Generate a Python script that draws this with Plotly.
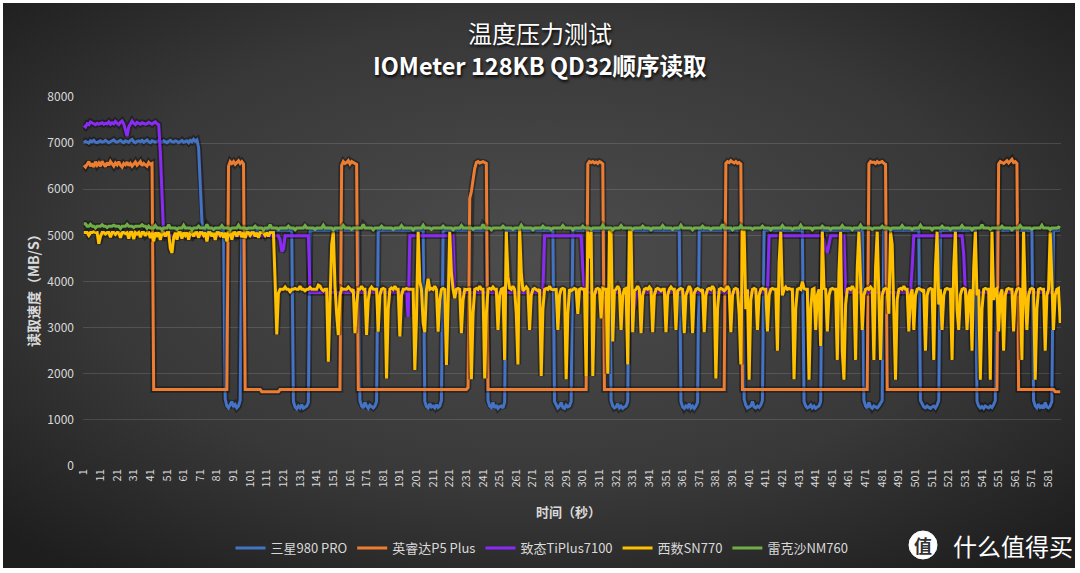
import base64
import plotly.graph_objects as go

N = 588
X = list(range(1, N + 1))
X_TICKS = list(range(1, 582, 10))
Y_TICKS = list(range(0, 8001, 1000))

SERIES_NAMES = ["三星980 PRO", "英睿达P5 Plus", "致态TiPlus7100", "西数SN770", "雷克沙NM760"]
COLORS = ["#4472C4", "#ED7D31", "#8A2BF5", "#FFC000", "#70AD47"]

# ---------------- 三星980 PRO ----------------
BLUE_START = [7010, 7040, 7020, 7000, 7050, 7030, 7060, 7020, 7010, 7040,
              7050, 7020, 7030, 7060, 7040, 7010, 7030, 7050, 7070, 7030,
              7020, 7040, 7060, 7030, 7010, 7050, 7040, 7020, 7060, 7080,
              7030, 7010, 7040, 7050, 7030, 7060, 7020, 7040, 7070, 7030,
              7010, 7050, 7040, 7020, 7030, 7060, 7040, 7020, 7050, 7030,
              7010, 7040, 7060, 7030, 7020, 7050, 7040, 7010, 7030, 7060,
              7020, 7040, 7050, 7010, 7060, 7030, 7080, 7040, 7070]
BLUE_BASE = [(70, 70, 6900), (71, 71, 6200), (72, 72, 5300), (73, N, 5110)]
BLUE_LOWS = [
    (86, [1450, 1300, 1260, 1350, 1400, 1280, 1330, 1260, 1300, 1420]),
    (127, [1400, 1280, 1240, 1300, 1260, 1330, 1250, 1270, 1300, 1380]),
    (167, [1420, 1300, 1260, 1380, 1300, 1250, 1320, 1280, 1260, 1300, 1400]),
    (206, [1400, 1290, 1260, 1350, 1280, 1300, 1260, 1330, 1270, 1300, 1420]),
    (244, [1420, 1300, 1270, 1380, 1260, 1320, 1250, 1290, 1300, 1260, 1380]),
    (284, [1400, 1310, 1260, 1300, 1380, 1270, 1250, 1320, 1280, 1300, 1400]),
    (318, [1420, 1300, 1260, 1280, 1350, 1260, 1300, 1250, 1280, 1300, 1400]),
    (360, [1400, 1280, 1250, 1300, 1270, 1350, 1260, 1300, 1250, 1300, 1380]),
    (398, [1450, 1320, 1260, 1290, 1300, 1400, 1280, 1260, 1300, 1270, 1320, 1420]),
    (434, [1400, 1300, 1260, 1280, 1320, 1260, 1300, 1250, 1280, 1300, 1400]),
    (470, [1420, 1300, 1260, 1380, 1280, 1250, 1300, 1270, 1260, 1300, 1350, 1420]),
    (504, [1420, 1330, 1280, 1260, 1300, 1270, 1250, 1280, 1300, 1260, 1320, 1420]),
    (538, [1400, 1300, 1260, 1290, 1250, 1300, 1280, 1260, 1300, 1270, 1330, 1420]),
    (572, [1420, 1300, 1260, 1340, 1270, 1300, 1250, 1380, 1280, 1260, 1300, 1400]),
]

# ---------------- 英睿达P5 Plus ----------------
ORANGE_START = [6520, 6480, 6540, 6600, 6500, 6560, 6480, 6600, 6520, 6570,
                6500, 6610, 6540, 6490, 6580, 6520, 6600, 6550, 6500, 6570,
                6530, 6600, 6520, 6480, 6560, 6530, 6590, 6510, 6560, 6500,
                6540, 6590, 6520, 6550, 6600, 6510, 6560, 6530, 6500, 6580,
                6540, 6560]
ORANGE_BASE = [(43, N, 1660), (108, 118, 1610), (585, N, 1610)]
ORANGE_PEAKS = [
    (88, [6500, 6600, 6560, 6600, 6540, 6580, 6620, 6560, 6600, 6550]),
    (156, [6520, 6600, 6560, 6580, 6620, 6550, 6600, 6580, 6560, 6540]),
    (232, [1700, 5800, 5950, 6200, 6450, 6580, 6600, 6570, 6590, 6600, 6580, 6560]),
    (304, [6550, 6600, 6580, 6600, 6570, 6590, 6560, 6600, 6580, 6550]),
    (387, [6560, 6600, 6580, 6620, 6590, 6570, 6600, 6560, 6580, 6550]),
    (473, [6550, 6600, 6580, 6590, 6560, 6600, 6570, 6580, 6600, 6560, 6540]),
    (551, [6550, 6600, 6580, 6560, 6590, 6620, 6570, 6600, 6650, 6580, 6600, 6560]),
]

# ---------------- 致态TiPlus7100 ----------------
PURPLE_START = [7380, 7350, 7420, 7400, 7460, 7430, 7420, 7400, 7430, 7410,
                7420, 7440, 7410, 7430, 7420, 7460, 7410, 7440, 7420, 7470,
                7430, 7400, 7450, 7480, 7420, 7250, 7150, 7350, 7420, 7480,
                7430, 7400, 7450, 7420, 7410, 7440, 7430, 7410, 7420, 7450,
                7430, 7410, 7440, 7460, 7420, 7400]
PURPLE_BASE = [(47, 47, 6800), (48, 48, 5700), (49, 136, 4990), (137, 196, 3760),
               (197, 223, 4990), (224, 277, 3760), (278, 300, 4990), (301, 412, 3760),
               (413, 458, 4990), (459, 499, 3760), (500, 529, 4990), (530, 530, 4600),
               (531, N, 3760)]
PURPLE_POINTS = [(119, 4900), (120, 4650), (121, 4700), (195, 3700), (196, 3230),
                 (301, 4300), (331, 3500), (332, 3400), (333, 3650), (446, 4900),
                 (447, 4680), (448, 4620), (449, 4800), (499, 4300)]

# ---------------- 西数SN770 ----------------
YELLOW_BASE = [(1, 115, 5060), (116, 116, 4000), (117, 117, 2850), (118, 118, 3750), (119, N, 3830)]
YELLOW_POINTS = [
    (4, 5000), (7, 5080), (10, 4820), (11, 4980), (14, 5030), (17, 4960), (20, 5020), (23, 4950),
    (26, 5040), (28, 4930), (31, 4920), (33, 5030), (35, 4960), (38, 4990), (41, 4940), (43, 4870),
    (45, 5000), (47, 4900), (50, 4980), (53, 4720), (54, 4620), (55, 4950), (57, 4910), (60, 4930),
    (62, 5000), (64, 4910), (67, 4980), (70, 4950), (73, 5000), (75, 4870), (78, 4980), (80, 4900),
    (83, 5000), (85, 4950), (87, 4870), (90, 4910), (93, 4980), (96, 4960), (98, 4940), (101, 5000),
    (104, 4980), (106, 4950), (110, 5000), (112, 4980),
    (122, 3880), (125, 3780), (128, 3850), (131, 3900), (134, 3800), (137, 3870), (140, 3820),
    (142, 3920), (143, 3900), (145, 3800),
    (148, 2260), (149, 3800), (150, 4800), (151, 5080), (152, 3900), (153, 3300), (154, 2840),
    (155, 3700), (156, 3850), (160, 3880), (162, 3800), (164, 2880), (165, 3500), (168, 3900),
    (171, 2840), (172, 3600), (174, 3880), (178, 2910), (179, 3700), (181, 3850), (183, 1900),
    (184, 3400), (186, 3860), (188, 3900), (191, 2810), (192, 3700), (195, 3850), (198, 3820),
    (200, 2080), (201, 3200), (202, 5080), (203, 4000), (205, 3100), (206, 2900), (208, 4060),
    (210, 3850), (212, 3900), (214, 2910), (215, 3600), (217, 3850), (219, 2190), (220, 3500),
    (221, 5080), (222, 4200), (224, 3640), (226, 3850), (228, 2880), (229, 3600), (231, 3820),
    (234, 1880), (235, 3300), (237, 3850), (239, 3900), (242, 1900), (243, 3300), (245, 3850),
    (247, 3880), (250, 2950), (251, 3700), (253, 3850), (254, 2300), (255, 5080), (256, 4100),
    (257, 3850), (259, 3900), (261, 3300), (262, 2200), (263, 5150), (264, 4200), (265, 3800),
    (267, 3880), (269, 2950), (270, 3700), (272, 3850), (274, 3800), (276, 1950), (277, 3400),
    (279, 3850), (281, 3900), (283, 3820), (286, 2950), (287, 3700), (289, 3850), (291, 1880),
    (292, 3300), (294, 3800), (296, 3850), (298, 3300), (300, 3850),
    (303, 1950), (304, 5080), (305, 4500), (306, 5080), (307, 1950), (308, 3700), (310, 3850),
    (312, 3200), (313, 3850), (316, 2000), (317, 5080), (318, 5080), (319, 2700), (320, 3800),
    (322, 3900), (324, 2950), (325, 3700), (327, 3850), (328, 2200), (329, 5080), (330, 5080),
    (331, 2900), (332, 3800), (334, 3900), (336, 2880), (337, 3700), (339, 3850), (341, 3880),
    (343, 2900), (344, 3700), (346, 3850), (348, 3800), (351, 2900), (352, 3700), (354, 3880),
    (357, 2950), (358, 3800), (360, 3850), (362, 2880), (363, 3700), (365, 3900), (367, 2880),
    (368, 3750), (370, 3850), (372, 3800), (374, 2900), (375, 3700), (377, 3850), (379, 3900),
    (381, 1900), (382, 3400), (384, 3850), (386, 3800), (388, 3900), (390, 2900), (391, 3700),
    (393, 3850), (395, 3300), (396, 2200), (397, 5080), (398, 5080), (399, 3400), (401, 1870),
    (402, 3600), (404, 3850), (406, 2950), (407, 3700), (409, 3850),
    (412, 2920), (413, 3700), (415, 3850), (418, 2500), (419, 4400), (420, 5080), (421, 3700),
    (423, 3880), (425, 3850), (428, 1880), (429, 3400), (431, 3850), (433, 4000), (434, 3850),
    (437, 1870), (438, 3400), (440, 3850), (441, 2950), (442, 3700), (444, 2600), (445, 5080),
    (446, 3850), (448, 2920), (449, 3700), (451, 3850), (454, 2300), (455, 4200), (456, 5080),
    (457, 2500), (458, 1870), (459, 3500), (461, 3850), (463, 3900), (465, 2300), (466, 4300),
    (467, 5080), (468, 3800), (469, 2950), (470, 3700), (472, 3850), (474, 3880), (476, 2300),
    (477, 4300), (478, 5080), (479, 3500), (480, 2300), (481, 3700), (483, 3850), (485, 3300),
    (486, 5080), (487, 4800), (488, 3000), (489, 1870), (490, 3600), (492, 3850), (494, 3900),
    (497, 2920), (498, 3700), (500, 2950), (501, 3700), (503, 3850), (505, 3800), (507, 2500),
    (508, 3700), (510, 3850), (512, 2300), (513, 4300), (514, 5080), (515, 3500), (517, 2950),
    (518, 3700), (520, 3850), (523, 2300), (524, 4300), (525, 5080), (526, 3400), (527, 2950),
    (528, 3700), (530, 3850), (532, 2950), (533, 3700), (535, 2500), (536, 4300), (537, 5080),
    (538, 3700), (540, 1870), (541, 3400), (543, 3850), (546, 1870), (547, 5080), (548, 3600),
    (550, 3850), (551, 2920), (552, 3700), (554, 2500), (555, 3700), (557, 3850), (560, 2920),
    (561, 3700), (563, 3850), (565, 2300), (566, 5080), (567, 3700), (568, 2950), (569, 3700),
    (571, 3850), (573, 1870), (574, 3400), (576, 3850), (579, 2500), (580, 3700), (582, 5080),
    (583, 3800), (584, 2950), (585, 3700), (587, 3850), (588, 3100),
]

# ---------------- 雷克沙NM760 ----------------
GREEN_BASE = [(1, 2, 5250), (3, 40, 5200), (41, N, 5160)]
GREEN_POINTS = [
    (5, 5240), (8, 5160), (12, 5230), (15, 5170), (19, 5220), (23, 5150), (27, 5240), (31, 5170),
    (36, 5230), (39, 5150), (44, 5210), (48, 5120), (52, 5230), (57, 5130), (61, 5220), (66, 5120),
    (70, 5200), (75, 5240), (79, 5130), (84, 5210), (89, 5120), (94, 5220), (99, 5140), (104, 5200),
    (109, 5120), (113, 5230), (118, 5130), (124, 5200), (128, 5120), (134, 5210), (140, 5130),
    (145, 5220), (151, 5120), (157, 5210), (162, 5130), (169, 5240), (175, 5120), (180, 5200),
    (187, 5130), (192, 5210), (199, 5120), (205, 5220), (210, 5130), (217, 5200), (223, 5120),
    (228, 5210), (235, 5130), (241, 5240), (246, 5120), (253, 5200), (259, 5130), (264, 5220),
    (271, 5120), (277, 5200), (282, 5130), (289, 5210), (295, 5120), (301, 5200), (306, 5130),
    (313, 5220), (319, 5120), (324, 5210), (331, 5130), (337, 5200), (342, 5120), (349, 5210),
    (355, 5130), (360, 5220), (367, 5120), (373, 5200), (378, 5130), (385, 5240), (391, 5120),
    (396, 5210), (403, 5130), (409, 5200), (414, 5120), (421, 5210), (427, 5130), (432, 5220),
    (439, 5120), (445, 5200), (450, 5130), (457, 5210), (463, 5120), (468, 5220), (475, 5130),
    (481, 5200), (486, 5120), (493, 5210), (499, 5130), (504, 5220), (511, 5120), (517, 5200),
    (522, 5130), (529, 5210), (535, 5120), (541, 5230), (546, 5130), (553, 5200), (559, 5120),
    (564, 5210), (571, 5130), (577, 5220), (582, 5120), (587, 5180),
]


def build(base, blocks=(), points=()):
    arr = [None] * N
    for s, e, v in base:
        for i in range(s, e + 1):
            arr[i - 1] = v
    for start, vals in blocks:
        for k, v in enumerate(vals):
            arr[start - 1 + k] = v
    for i, v in points:
        arr[i - 1] = v
    return arr


blue = build(BLUE_BASE, [(1, BLUE_START)] + BLUE_LOWS)
orange = build(ORANGE_BASE, [(1, ORANGE_START)] + ORANGE_PEAKS)
purple = build(PURPLE_BASE, [(1, PURPLE_START)], PURPLE_POINTS)
yellow = build(YELLOW_BASE, [], YELLOW_POINTS)
green = build(GREEN_BASE, [], GREEN_POINTS)
SERIES = [blue, orange, purple, yellow, green]

FONT = "Noto Sans CJK SC"
W, H = 1080, 573
L, R, T, B = 83, 19, 97, 107
PW, PH = W - L - R, H - T - B


def px(x):
    return (x - L) / PW


def py(y):
    return (H - B - y) / PH


fig = go.Figure()
for name, color, ys in zip(SERIES_NAMES, COLORS, SERIES):
    fig.add_trace(go.Scatter(x=X, y=ys, mode="lines", showlegend=False, hoverinfo="skip",
                             line=dict(color="rgba(0,0,0,0.35)", width=6.5)))
    fig.add_trace(go.Scatter(x=X, y=ys, mode="lines", name=name,
                             line=dict(color=color, width=3)))

svg = ("<svg xmlns='http://www.w3.org/2000/svg' width='1072' height='565'>"
       "<defs><radialGradient id='g' cx='50%' cy='45%' r='70%'>"
       "<stop offset='0%' stop-color='#4d4d4d'/><stop offset='60%' stop-color='#383838'/>"
       "<stop offset='100%' stop-color='#1e1e1e'/></radialGradient></defs>"
       "<rect width='100%' height='100%' fill='url(#g)'/></svg>")
src = "data:image/svg+xml;base64," + base64.b64encode(svg.encode()).decode()

fig.add_layout_image(dict(source=src, xref="paper", yref="paper", x=px(3), y=py(3),
                          sizex=1072 / PW, sizey=565 / PH, xanchor="left", yanchor="top",
                          sizing="stretch", layer="below"))

shadow = "1px 2px 3px rgba(0,0,0,0.9)"
annotations = [
    dict(text="温度压力测试", x=px(540), y=py(33), font=dict(size=24, color="#ffffff", shadow=shadow)),
    dict(text="<b>IOMeter 128KB QD32顺序读取</b>", x=px(540), y=py(65),
         font=dict(size=23.5, color="#ffffff", shadow=shadow)),
    dict(text="<b>读取速度（MB/S）</b>", x=px(33), y=py(287), textangle=-90,
         font=dict(size=14, color="#d9d9d9")),
    dict(text="<b>时间（秒）</b>", x=px(568), y=py(511), font=dict(size=13, color="#d9d9d9")),
    dict(text="<b>值</b>", x=px(923), y=py(545), font=dict(size=18, color="#333333")),
    dict(text="什么值得买", x=px(951), y=py(545), xanchor="left",
         font=dict(size=24, color="#ffffff")),
]
for a in annotations:
    a.setdefault("xanchor", "center")
    a.update(xref="paper", yref="paper", showarrow=False, yanchor="middle")
    fig.add_annotation(**a)

fig.add_shape(type="circle", xref="paper", yref="paper", x0=px(909), x1=px(937),
              y0=py(559), y1=py(531), fillcolor="#ffffff", line=dict(color="#ffffff", width=1))

fig.update_layout(
    width=W, height=H,
    margin=dict(l=L, r=R, t=T, b=B, autoexpand=False),
    paper_bgcolor="#ffffff", plot_bgcolor="rgba(0,0,0,0)",
    font=dict(family=FONT, color="#d9d9d9"),
    legend=dict(orientation="h", x=px(542), xanchor="center", y=py(548), yanchor="middle",
                font=dict(size=13, color="#d9d9d9"), bgcolor="rgba(0,0,0,0)",
                itemwidth=30, tracegroupgap=0),
    xaxis=dict(range=[0.5, N + 0.5], tickmode="array", tickvals=X_TICKS,
               ticktext=[str(v) for v in X_TICKS], tickangle=-90, showgrid=False,
               zeroline=False, showline=False, ticks="", tickfont=dict(size=11, color="#d9d9d9"),
               automargin=False),
    yaxis=dict(range=[0, 8000], tickmode="array", tickvals=Y_TICKS, showgrid=True,
               gridcolor="rgba(255,255,255,0.13)", gridwidth=1, zeroline=False, showline=False,
               ticks="", tickfont=dict(size=12, color="#d9d9d9"), ticklabelstandoff=8,
               automargin=False),
)

fig.write_html("out.html", config={"displayModeBar": False},
               post_script="document.body.style.margin='0';document.body.style.overflow='hidden';")
